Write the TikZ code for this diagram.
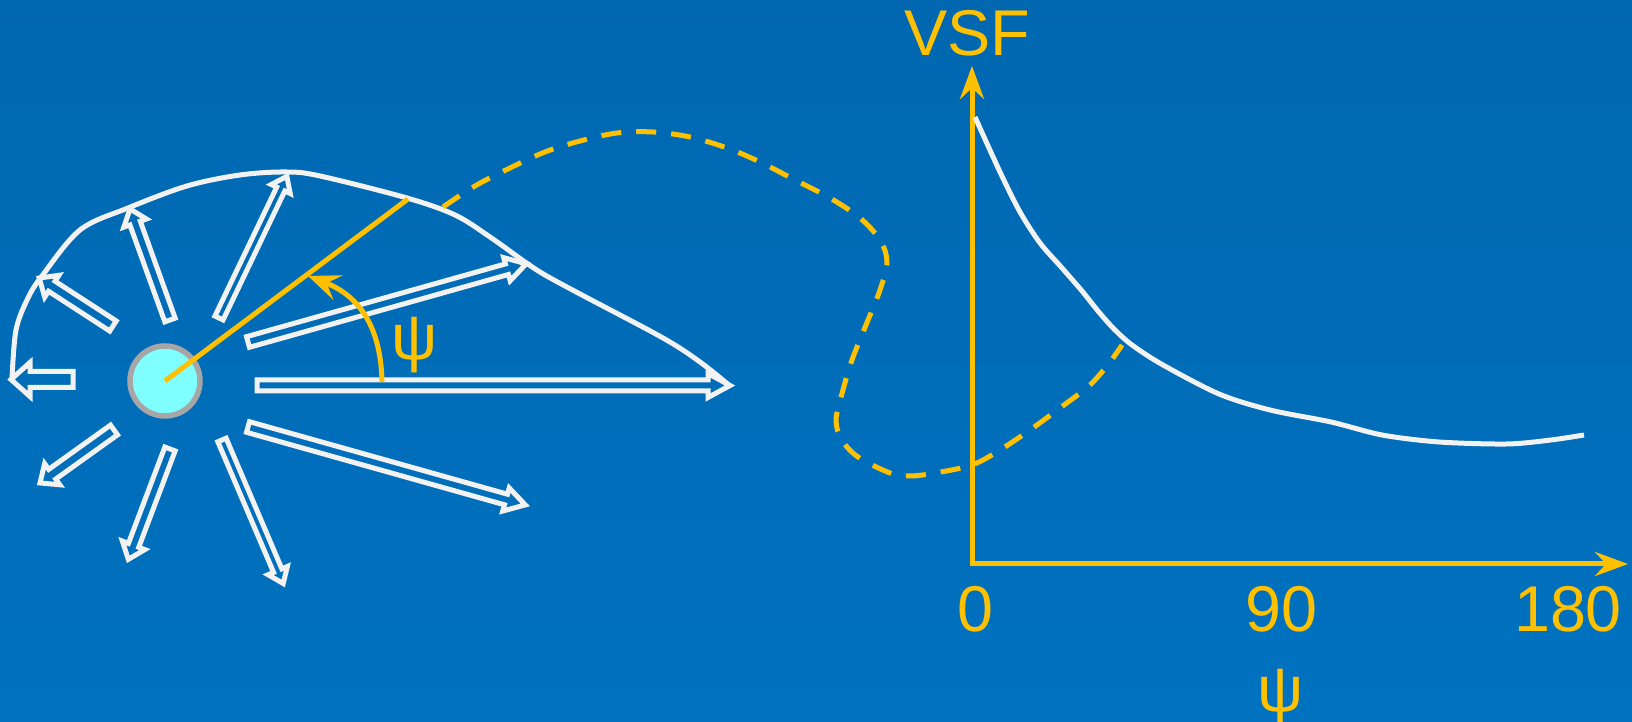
\documentclass[tikz,border=0pt]{standalone}
\usepackage{fontspec}
\setmainfont{Liberation Sans}
\usetikzlibrary{arrows.meta}

\definecolor{bgtop}{RGB}{0,103,176}
\definecolor{bgbot}{RGB}{0,114,192}
\definecolor{raywhite}{RGB}{242,242,242}
\definecolor{gold}{RGB}{255,192,0}
\definecolor{particle}{RGB}{127,255,255}
\definecolor{rim}{RGB}{166,166,166}

\tikzset{
  ray/.style={draw=raywhite, line width=0.5mm, line join=miter},
  envelope/.style={draw=raywhite, line width=0.5mm, line cap=butt},
  goldline/.style={draw=gold, line width=0.5mm},
  axis/.style={goldline, line join=miter,
    {Stealth[length=3.3mm, width=2.4mm, inset=1.1mm]}-{Stealth[length=3.3mm, width=2.4mm, inset=1.1mm]}},
  goldtext/.style={text=gold, font=\fontsize{18.4}{22}\selectfont, inner sep=0pt},
  goldtrace/.style={goldline, dash pattern=on 2mm off 1.5mm},
  grain/.style={circle, draw=rim, fill=particle, line width=0.55mm, minimum size=7mm, inner sep=0pt}
}

\begin{document}
\begin{tikzpicture}[x=0.1mm, y=-0.1mm]

  % Background
  \fill[top color=bgtop, middle color=bgtop, bottom color=bgbot] (0,0) rectangle (1632,722);
  \useasboundingbox (0,0) rectangle (1632,722);

  % Scattered light (tail x / tail y / angle / length / shaft / head / head length)
  \foreach \tx/\ty/\ang/\len/\sw/\hw/\hl in {
      73/379.5/180/62/8/17/19,
      113/326/147/88/6/13/15,
      170/320/109.8/118/5.5/12/15,
      219/318/64.4/157/4.5/10.5/14,
      248/342/15.7/289/5.5/12/20,
      257/385.5/0/473/5.5/12/22,
      248/427/-15.7/288/5.5/12/20,
      222/440/-66.9/156/4.5/10.5/14,
      170/449/-110.7/118/5.5/12/15,
      114/430/-144.4/91/6/13/15} {
    \draw[ray, shift={(\tx,\ty)}, rotate=\ang]
      (0,-\sw) -- ({\len-\hl},-\sw) -- ({\len-\hl},-\hw) -- (\len,0)
      -- ({\len-\hl},\hw) -- ({\len-\hl},\sw) -- (0,\sw) -- cycle;
  }

  % Envelope of the scattered intensity
  \draw[envelope] plot[smooth, tension=0.55] coordinates {
    (12,379) (16,330) (28,298) (42,276) (80,230) (128,208) (187,186)
    (240,175) (286,172) (320,176) (407,198) (455,215) (490,237)
    (525,262) (545,275) (580,294) (663,338) (700,362) (730,386)};

  % Particle and scattering angle
  \node[grain] (sph) at (165,381) {};
  \coordinate (hit) at (408,199);
  \draw[goldline] (sph.center) -- (hit);
  \draw[goldline, -{Stealth[length=3.2mm, width=2.6mm, inset=1.2mm]}]
    (382,382) .. controls (381,328) and (360,296) .. (308,276);
  \node[goldtext, anchor=base] (psiangle) at (415,360) {ψ};

  % Mapping onto the phase function
  \draw[goldtrace] plot[smooth, tension=0.55] coordinates {
    (443,207) (475,186) (510,168) (545,152) (580,141) (617,133) (653,132)
    (690,137) (727,148) (760,162) (795,180) (830,198) (860,218) (880,240)
    (887,262) (880,290) (866,325) (852,360) (843,390) (836,420) (842,440)
    (858,457) (890,473) (910,476) (935,473) (972,465) (1000,450) (1030,430)
    (1060,408) (1090,385) (1110,362) (1122,345)};

  % Axes
  \coordinate (o) at (972,564);
  \coordinate (ytop) at (972,66);
  \coordinate (xend) at (1628,564);
  \draw[axis] (ytop) -- (o) -- (xend);

  \node[goldtext] (vsf) at (967,33) {VSF};
  \node[goldtext] (t0) at (975,609) {0};
  \node[goldtext] (t90) at (1281,609) {90};
  \node[goldtext] (t180) at (1568,609) {180};
  \node[goldtext, anchor=base] (psiaxis) at (1281,712) {ψ};

  % Volume scattering function
  \draw[envelope] plot[smooth, tension=0.5] coordinates {
    (975,117) (1000,172) (1020,212) (1040,243) (1062,268) (1082,291)
    (1098,311) (1114,329) (1132,345) (1163,365) (1219,394) (1270,410)
    (1331,422) (1382,435) (1439,442) (1507,444) (1551,440) (1584,435)};

\end{tikzpicture}
\end{document}
